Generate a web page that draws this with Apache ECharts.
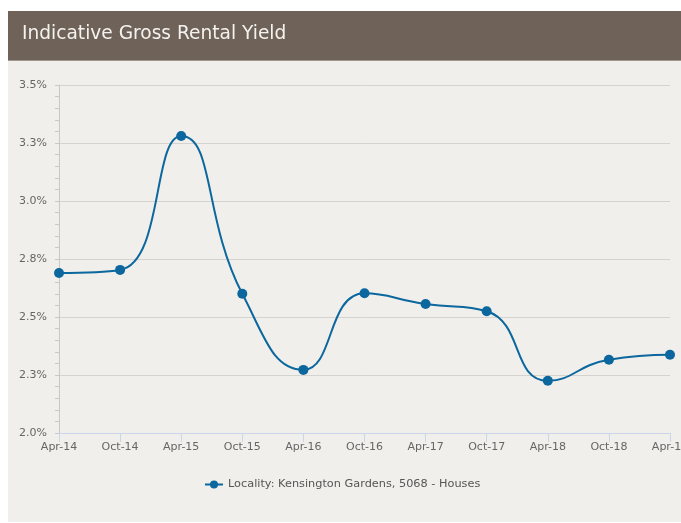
<!DOCTYPE html>
<html>
<head>
<meta charset="utf-8">
<script src="https://cdn.jsdelivr.net/npm/echarts@6/dist/echarts.min.js"></script>
<style>
html,body{margin:0;padding:0;background:#fff;}
#chart{width:681px;height:523px;}
</style>
</head>
<body>
<div id="chart"></div>
<script>
var categories = ['Apr-14','Oct-14','Apr-15','Oct-15','Apr-16','Oct-16','Apr-17','Oct-17','Apr-18','Oct-18','Apr-19'];
var yieldValues = [2.690, 2.703, 3.280, 2.600, 2.272, 2.602, 2.556, 2.525, 2.225, 2.316, 2.337];
var seriesName = 'Locality: Kensington Gardens, 5068 - Houses';
var chartTitle = 'Indicative Gross Rental Yield';

var chart = echarts.init(document.getElementById('chart'), null, {renderer:'canvas'});
var font = 'DejaVu Sans';
chart.setOption({
  backgroundColor: '#ffffff',
  animation: false,
  graphic: [
    {type:'rect', left:8, top:11, shape:{width:673, height:511}, style:{fill:'#f0efeb'}, z:-10},
    {type:'rect', left:8, top:11, shape:{width:673, height:49}, style:{fill:'#6e6259'}, z:-9},
    {type:'rect', left:8, top:60, shape:{width:673, height:1}, style:{fill:'#a0968e'}, z:-9},
    {type:'text', left:22, top:25, style:{text:chartTitle, fill:'#f4f2ef', font:'18.6px "DejaVu Sans"'}, z:10}
  ],
  grid: {left:59, right:11, top:85, bottom:90, containLabel:false, outerBoundsMode:'none'},
  legend: {
    left: 199, top: 474,
    itemWidth: 18, itemHeight: 10,
    textStyle: {fontFamily: font, fontSize: 11.3, color: '#555555'},
    itemGap: 6,
    data: [seriesName]
  },
  xAxis: {
    type: 'category',
    data: categories,
    boundaryGap: false,
    axisLine: {show:true, lineStyle:{color:'#ccd6eb', width:1}},
    axisTick: {show:true, length:9, alignWithLabel:true, lineStyle:{color:'#ccd6eb'}},
    axisLabel: {fontFamily: font, fontSize: 11, color:'#666666', margin:9, showMaxLabel:true, hideOverlap:false},
    splitLine: {show:false}
  },
  yAxis: {
    type: 'value',
    min: 2, max: 3.5, interval: 0.25,
    axisLine: {show:true, lineStyle:{color:'#c8c8c8', width:1}},
    axisTick: {show:true, length:4, lineStyle:{color:'#c8c8c8'}},
    minorTick: {show:true, splitNumber:5, length:4, lineStyle:{color:'#c8c8c8'}},
    axisLabel: {fontFamily: font, fontSize: 11, color:'#666666', margin:12,
      formatter: function(v){ return v.toFixed(1) + '%'; }},
    splitLine: {show:true, lineStyle:{color:'#d4d3cf', width:1}}
  },
  series: [{
    name: seriesName,
    type: 'line',
    data: yieldValues,
    smooth: 0.5,
    symbol: 'circle',
    symbolSize: 10,
    lineStyle: {color:'#0b679d', width:2},
    itemStyle: {color:'#0b679d'},
    clip: false
  }]
});
</script>
</body>
</html>
